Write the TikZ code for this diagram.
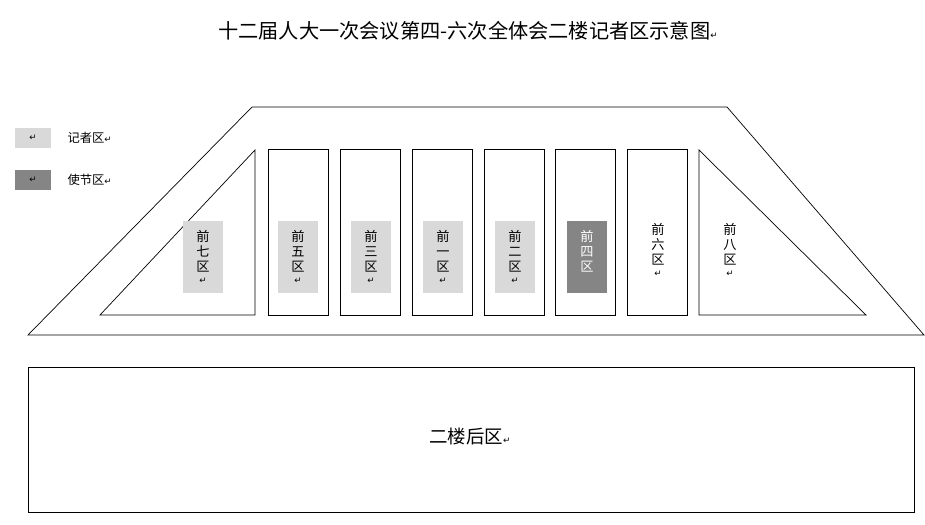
\documentclass[tikz,border=0pt]{standalone}
\usepackage{fontspec}
\newfontfamily\cjk{Noto Sans CJK SC}
\newfontfamily\sym{DejaVu Sans}
\usetikzlibrary{positioning}
\definecolor{reporter}{HTML}{D9D9D9}
\definecolor{envoy}{HTML}{858585}
\newcommand{\pmark}{{\sym\fontsize{5}{5}\selectfont ↵}}
\tikzset{
  zone/.style={draw, thin},
  seat/.style={fill=reporter, minimum width=0.8cm, minimum height=1.46cm, inner sep=0pt,
    align=center, font=\cjk\fontsize{7.5}{8.6}\selectfont},
  plain/.style={seat, fill=none},
  envoyseat/.style={seat, fill=envoy, text=white},
  legend/.style={minimum width=0.72cm, minimum height=0.4cm, inner sep=0pt}
}
\begin{document}
\begin{tikzpicture}[x=0.02cm, y=-0.02cm]
		\useasboundingbox (0,0) rectangle (925,524);
		
		%Title
		\node (title) at (468,31) {\cjk\fontsize{11.5}{12}\selectfont 十二届人大一次会议第四-六次全体会二楼记者区示意图\pmark};
		
		%Legend
		\node (legA) at (33,138) [legend, fill=reporter] {\pmark};
		\node (legAtxt) [right=0.2cm of legA] {\cjk\fontsize{7}{8}\selectfont 记者区\pmark};
		\node (legB) at (33,180) [legend, fill=envoy] {\pmark};
		\node (legBtxt) [right=0.2cm of legB] {\cjk\fontsize{7}{8}\selectfont 使节区\pmark};
		
		%Zones
		\draw[zone] (252,107) -- (727,107) -- (924,335) -- (28,335) -- cycle;
		\draw[zone] (255,150) -- (255,315) -- (100,315) -- cycle;
		\draw[zone] (699,150) -- (866,315) -- (699,315) -- cycle;
		\foreach \x in {268,340,412,484,555,627}
			\draw[zone] (\x,149) rectangle ++(60,166);
		\draw[zone] (28,367) rectangle (914,512);
		
		%Labels
		\node (z7) at (203,257) [seat] {前\\七\\区\\[-2pt]\pmark};
		\node (z5) at (298,257) [seat] {前\\五\\区\\[-2pt]\pmark};
		\node (z3) at (371,257) [seat] {前\\三\\区\\[-2pt]\pmark};
		\node (z1) at (443,257) [seat] {前\\一\\区\\[-2pt]\pmark};
		\node (z2) at (515,257) [seat] {前\\二\\区\\[-2pt]\pmark};
		\node (z4) at (587,257) [envoyseat] {前\\四\\区\\[-2pt]\mbox{}};
		\node (z6) at (658,250) [plain] {前\\六\\区\\[-2pt]\pmark};
		\node (z8) at (730,250) [plain] {前\\八\\区\\[-2pt]\pmark};
		\node (back) at (470,436) {\cjk\fontsize{10.5}{12}\selectfont 二楼后区\pmark};
		
\end{tikzpicture}
\end{document}
